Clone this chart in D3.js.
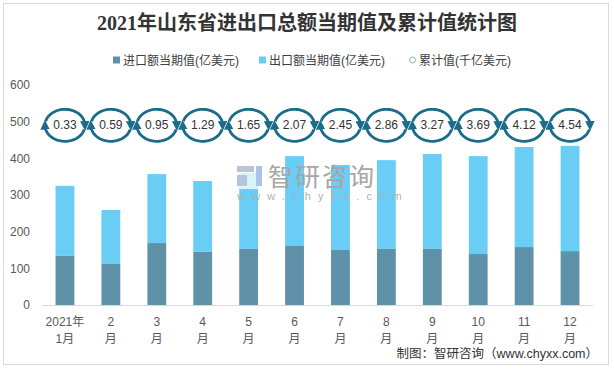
<!DOCTYPE html>
<html>
<head>
<meta charset="utf-8">
<script src="https://cdn.jsdelivr.net/npm/d3@7"></script>
<style>
  body { margin: 0; background: #fff; }
  svg text { font-family: "Liberation Sans", "Noto Sans CJK SC", sans-serif; }
</style>
</head>
<body>
<div id="chart"></div>
<script>
// data
var months = ['2021年\n1月', '2\n月', '3\n月', '4\n月', '5\n月', '6\n月', '7\n月', '8\n月', '9\n月', '10\n月', '11\n月', '12\n月'];
var importVals = [134, 112, 169, 145, 153, 161, 150, 153, 153, 139, 158, 147];
var exportVals = [191, 147, 188, 193, 207, 245, 232, 242, 259, 267, 273, 287];
var cumulative = [0.33, 0.59, 0.95, 1.29, 1.65, 2.07, 2.45, 2.86, 3.27, 3.69, 4.12, 4.54];
var yTicks = [0, 100, 200, 300, 400, 500, 600];
var legendNames = ['进口额当期值(亿美元)', '出口额当期值(亿美元)', '累计值(千亿美元)'];

var width = 614, height = 370;
var colors = { imp: '#5f91a8', exp: '#69cdf5', ring: '#1b6b8b' };
var ringLevel = 490;

var svg = d3.select('#chart').append('svg')
    .attr('width', width)
    .attr('height', height);

// frame
svg.append('rect')
   .attr('x', 3.5).attr('y', 3.5)
   .attr('width', 605).attr('height', 361)
   .style('fill', '#fff')
   .style('stroke', '#d9d9d9');

var x = d3.scaleBand()
    .domain(months)
    .range([42, 593])
    .paddingInner(0.59)
    .paddingOuter(0.295);

var y = d3.scaleLinear()
    .domain([0, 600])
    .range([305, 85]);

// title
svg.append('text')
   .attr('x', 307).attr('y', 30)
   .attr('text-anchor', 'middle')
   .style('font-family', '"Liberation Serif", "Noto Sans CJK SC", serif')
   .style('font-weight', 'bold')
   .style('font-size', '20px')
   .style('fill', '#333')
   .text('2021年山东省进出口总额当期值及累计值统计图');

// legend
var legendX = [113, 259, 409];
var legend = svg.append('g');
legendNames.forEach(function(name, i){
    var g = legend.append('g').attr('transform', 'translate(' + legendX[i] + ',60)');
    if (i < 2) {
        g.append('rect')
         .attr('x', 0).attr('y', -3.5)
         .attr('width', 7).attr('height', 7)
         .style('fill', i == 0 ? colors.imp : colors.exp);
    } else {
        g.append('circle')
         .attr('cx', 3.5).attr('cy', 0).attr('r', 3)
         .style('fill', 'none')
         .style('stroke', '#8fb3c4')
         .style('stroke-width', 1);
    }
    g.append('text')
     .attr('x', 10).attr('y', 4.5)
     .style('font-size', '12px')
     .style('fill', '#404040')
     .text(name);
});

// bars
var bars = svg.append('g');
bars.selectAll('.imp')
    .data(importVals)
    .enter().append('rect')
    .attr('class', 'imp')
    .attr('x', function(d, i){ return x(months[i]); })
    .attr('y', function(d){ return y(d); })
    .attr('width', x.bandwidth())
    .attr('height', function(d){ return y(0) - y(d); })
    .style('fill', colors.imp);

bars.selectAll('.exp')
    .data(exportVals)
    .enter().append('rect')
    .attr('class', 'exp')
    .attr('x', function(d, i){ return x(months[i]); })
    .attr('y', function(d, i){ return y(importVals[i] + d); })
    .attr('width', x.bandwidth())
    .attr('height', function(d){ return y(0) - y(d); })
    .style('fill', colors.exp);

// watermark (sits over the bars)
var wm = svg.append('g');
wm.append('rect').attr('x', 234).attr('y', 163).attr('width', 32).attr('height', 26).style('fill', '#fff').style('opacity', 0.75);
wm.append('rect').attr('x', 237).attr('y', 166).attr('width', 17).attr('height', 6).style('fill', '#b8c4dc');
wm.append('rect').attr('x', 237).attr('y', 175).attr('width', 10).attr('height', 11).style('fill', '#b8c4dc');
wm.append('rect').attr('x', 256).attr('y', 166).attr('width', 6).attr('height', 20).style('fill', '#a9c4e6');
wm.append('text')
  .attr('x', 268).attr('y', 186)
  .style('font-size', '25px')
  .style('fill', '#a6a6a6')
  .style('letter-spacing', '2px')
  .text('智研咨询');
wm.append('text')
  .attr('x', 237).attr('y', 200)
  .style('font-size', '11px')
  .style('fill', '#b0b0b0')
  .style('letter-spacing', '7.2px')
  .text('www.chyxx.com');

// axes
svg.append('line')
   .attr('x1', 42).attr('x2', 593)
   .attr('y1', y(0) + 0.5).attr('y2', y(0) + 0.5)
   .style('stroke', '#d9d9d9');

var yAxis = svg.append('g')
    .attr('transform', 'translate(30,0)')
    .call(d3.axisLeft(y).tickValues(yTicks).tickSize(0).tickPadding(0));
yAxis.select('.domain').remove();
yAxis.selectAll('text')
     .style('font-size', '12px')
     .style('fill', '#595959');

var xLabels = svg.append('g');
months.forEach(function(m, i){
    var t = xLabels.append('text')
        .attr('x', x(m) + x.bandwidth() / 2)
        .attr('y', 326)
        .attr('text-anchor', 'middle')
        .style('font-size', '12px')
        .style('fill', '#595959');
    m.split('\n').forEach(function(line, j){
        t.append('tspan')
         .attr('x', x(m) + x.bandwidth() / 2)
         .attr('dy', j == 0 ? 0 : 17)
         .text(line);
    });
});

// cumulative rings
var defs = svg.append('defs');
defs.append('marker')
    .attr('id', 'arrowhead')
    .attr('viewBox', '0 0 10 10')
    .attr('refX', 5).attr('refY', 5)
    .attr('markerWidth', 3.4).attr('markerHeight', 3.4)
    .attr('orient', 'auto')
    .append('path')
    .attr('d', 'M0,0 L10,5 L0,10 Z')
    .style('fill', colors.ring);

function ellipseArc(cx, cy, rx, ry, t0, t1) {
    var pts = d3.range(25).map(function(k){
        var t = (t0 + (t1 - t0) * k / 24) * Math.PI / 180;
        return [cx + rx * Math.cos(t), cy + ry * Math.sin(t)];
    });
    return d3.line()(pts);
}

var rings = svg.append('g');
cumulative.forEach(function(v, i){
    var cx = x(months[i]) + x.bandwidth() / 2;
    var cy = y(ringLevel);
    rings.append('path')
         .attr('d', ellipseArc(cx, cy, 20, 16, 195, 362))
         .style('fill', 'none')
         .style('stroke', colors.ring)
         .style('stroke-width', 2.8)
         .attr('marker-end', 'url(#arrowhead)');
    rings.append('path')
         .attr('d', ellipseArc(cx, cy, 20, 16, 15, 182))
         .style('fill', 'none')
         .style('stroke', colors.ring)
         .style('stroke-width', 2.8)
         .attr('marker-end', 'url(#arrowhead)');
    rings.append('text')
         .attr('x', cx).attr('y', cy + 4)
         .attr('text-anchor', 'middle')
         .style('font-size', '12px')
         .style('fill', '#333')
         .text(v.toFixed(2));
});

// source
svg.append('text')
   .attr('x', 598).attr('y', 358)
   .attr('text-anchor', 'end')
   .style('font-size', '12.5px')
   .style('fill', '#333')
   .text('制图：智研咨询（www.chyxx.com）');
</script>
</body>
</html>
